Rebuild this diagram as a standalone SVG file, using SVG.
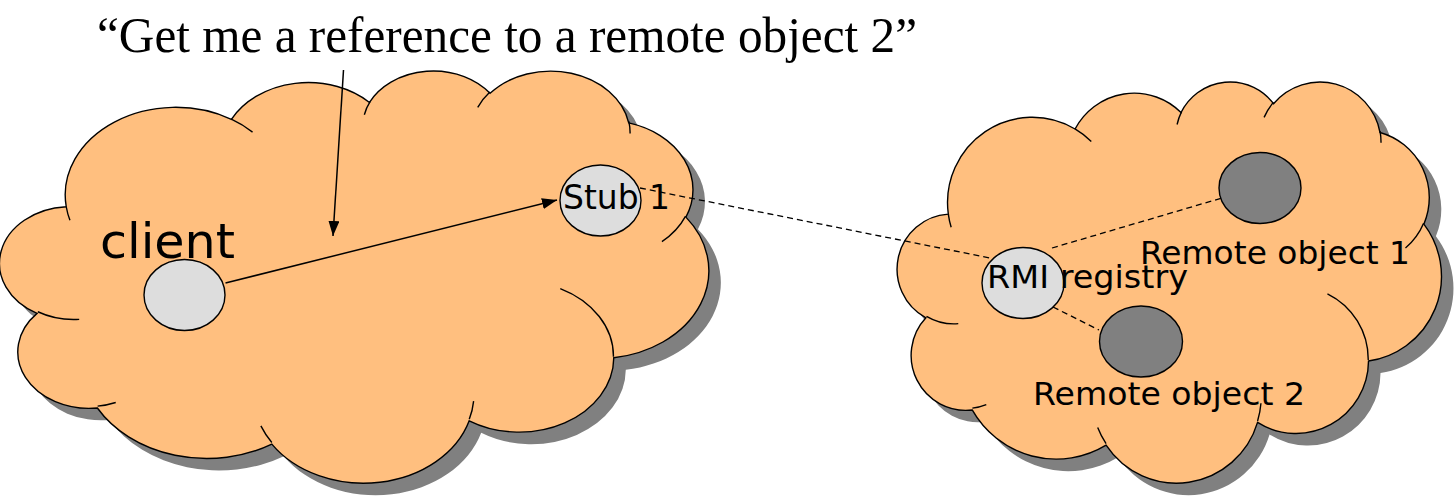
<svg xmlns="http://www.w3.org/2000/svg" width="1455" height="497" viewBox="0 0 1455 497">
<style>
.lbl{font-family:"DejaVu Sans","Verdana",sans-serif;fill:#000}
.title{font-family:"Liberation Serif","Times New Roman",serif;fill:#000}
.obj{fill:#DDDDDD;stroke:#000;stroke-width:1.4}
.robj{fill:#808080;stroke:#000;stroke-width:1.4}
.conn{stroke:#000;stroke-width:1.5;fill:none}
.dash{stroke:#000;stroke-width:1.3;fill:none;stroke-dasharray:6 4}
</style>
<defs>
<path id="cloudOutline" vector-effect="non-scaling-stroke" d="M3900 14370 A6753 9190 0 0 1 14005 5202 A5333 7267 0 0 1 22456 3432 A4365 5945 0 0 1 29833 2480 A4857 6595 0 0 1 38318 5576 A5333 7273 0 0 1 41818 15459 A6775 9220 0 0 1 37404 30203 A5785 7867 0 0 1 28556 36813 A6752 9215 0 0 1 16480 39264 A7720 10543 0 0 1 5805 35470 A4360 5918 0 0 1 2113 25548 A4345 5945 0 0 1 3900 14370 Z"/>
<path id="cloudInner" vector-effect="non-scaling-stroke" fill="none" d="M4693 26177 A4345 5945 0 0 1 2160 25380 M6928 34899 A4360 5918 0 0 1 5820 35281 M16478 39090 A6752 9215 0 0 1 15810 37350 M28827 34751 A6752 9215 0 0 1 28560 36660 M34129 22954 A5785 7867 0 0 1 37381 30090 M41798 15354 A5333 7273 0 0 1 40350 18030 M38324 5426 A4857 6595 0 0 1 38400 6690 M29078 3952 A4857 6595 0 0 1 29820 2340 M22141 4720 A4365 5945 0 0 1 22500 3330 M14000 5192 A6753 9190 0 0 1 15300 6541 M4127 15789 A6753 9190 0 0 1 3900 14370"/>
<marker id="arrow" markerUnits="userSpaceOnUse" markerWidth="15" markerHeight="11" refX="15" refY="5.5" orient="auto">
<path d="M0 0 L15 5.5 L0 11 Z" fill="#000"/>
</marker>
</defs>

<g id="shadows" fill="#808080">
<use href="#cloudOutline" transform="translate(14.5,81.7) scale(0.016343,0.009537)"/>
<use href="#cloudOutline" transform="translate(911.4,92.7) scale(0.012542,0.009282)"/>
</g>

<g id="client-cloud" transform="translate(2.5,69.7) scale(0.016343,0.009537)">
<use href="#cloudOutline" fill="#FFBF7F" stroke="#000" stroke-width="1.4"/>
<use href="#cloudInner" fill="none" stroke="#000" stroke-width="1.4"/>
</g>

<g id="server-cloud" transform="translate(899.4,80.7) scale(0.012542,0.009282)">
<use href="#cloudOutline" fill="#FFBF7F" stroke="#000" stroke-width="1.4"/>
<use href="#cloudInner" fill="none" stroke="#000" stroke-width="1.4"/>
</g>

<g id="client">
<ellipse class="obj" cx="184.5" cy="295" rx="40.5" ry="35.5"/>
<text class="lbl" x="100" y="258" font-size="48" textLength="135" lengthAdjust="spacingAndGlyphs">client</text>
</g>

<g id="stub1">
<ellipse class="obj" cx="600.5" cy="200.5" rx="40.5" ry="35.5"/>
</g>

<g id="rmi-registry">
<ellipse class="obj" cx="1023" cy="283" rx="41" ry="35.5"/>
</g>

<g id="remote-object-1">
<ellipse class="robj" cx="1260" cy="188" rx="41" ry="35.5"/>
</g>

<g id="remote-object-2">
<ellipse class="robj" cx="1141" cy="341.5" rx="41.5" ry="35.5"/>
</g>

<g id="connectors">
<line class="conn" x1="225.5" y1="283" x2="557" y2="200" marker-end="url(#arrow)"/>
<line class="conn" x1="343.5" y1="70" x2="333" y2="236" marker-end="url(#arrow)"/>
<line class="dash" x1="640" y1="188" x2="990" y2="258"/>
<line class="dash" x1="1052" y1="248" x2="1222" y2="198"/>
<line class="dash" x1="1053" y1="307" x2="1099" y2="330"/>
</g>

<g id="labels">
<text class="lbl" x="563" y="209" font-size="33" textLength="107" lengthAdjust="spacingAndGlyphs">Stub 1</text>
<text class="lbl" x="987" y="288" font-size="32" textLength="201" lengthAdjust="spacingAndGlyphs">RMI registry</text>
<text class="lbl" x="1140" y="264" font-size="32" textLength="270" lengthAdjust="spacingAndGlyphs">Remote object 1</text>
<text class="lbl" x="1033" y="405" font-size="32" textLength="272" lengthAdjust="spacingAndGlyphs">Remote object 2</text>
</g>

<g id="title">
<text class="title" x="97" y="52" font-size="50" textLength="820" lengthAdjust="spacingAndGlyphs">“Get me a reference to a remote object 2”</text>
</g>
</svg>
